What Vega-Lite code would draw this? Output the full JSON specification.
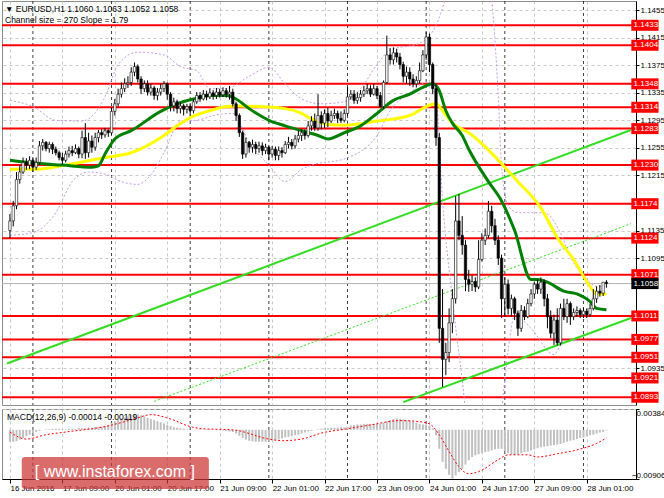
{
"$schema": "https://vega.github.io/schema/vega-lite/v6.json",
"padding": 0,
"background": "white",
"spacing": 2,
"resolve": {"scale": {"x": "independent", "y": "independent"}, "axis": {"x": "independent", "y": "independent"}},
"config": {
 "font": "Liberation Sans",
 "view": {"stroke": "#8c8c8c"},
 "axis": {"labelFont": "Liberation Sans", "labelFontSize": 8, "labelColor": "#000", "domainColor": "#000", "tickColor": "#000", "gridColor": "#c8c8c8", "gridDash": [3, 3]}
},
"datasets": {
 "bars": [
{"i":0,"o":1.1135,"h":1.1159,"l":1.1124,"c":1.1149,"m":-0.0022},
{"i":1,"o":1.1149,"h":1.1178,"l":1.1141,"c":1.1171,"m":-0.0022},
{"i":2,"o":1.1171,"h":1.1220,"l":1.1166,"c":1.1209,"m":-0.0021},
{"i":3,"o":1.1209,"h":1.1230,"l":1.1203,"c":1.1220,"m":-0.0018},
{"i":4,"o":1.1220,"h":1.1241,"l":1.1217,"c":1.1234,"m":-0.0015},
{"i":5,"o":1.1234,"h":1.1240,"l":1.1223,"c":1.1230,"m":-0.0012},
{"i":6,"o":1.1230,"h":1.1243,"l":1.1224,"c":1.1237,"m":-0.0009},
{"i":7,"o":1.1237,"h":1.1240,"l":1.1220,"c":1.1227,"m":-0.0006},
{"i":8,"o":1.1227,"h":1.1241,"l":1.1223,"c":1.1234,"m":-0.0004},
{"i":9,"o":1.1234,"h":1.1265,"l":1.1231,"c":1.1258,"m":-0.0002},
{"i":10,"o":1.1258,"h":1.1268,"l":1.1251,"c":1.1263,"m":0},
{"i":11,"o":1.1263,"h":1.1265,"l":1.1250,"c":1.1254,"m":0.0001},
{"i":12,"o":1.1254,"h":1.1264,"l":1.1248,"c":1.1260,"m":0.0001},
{"i":13,"o":1.1260,"h":1.1263,"l":1.1246,"c":1.1253,"m":0.0002},
{"i":14,"o":1.1253,"h":1.1257,"l":1.1244,"c":1.1248,"m":0.0002},
{"i":15,"o":1.1248,"h":1.1251,"l":1.1237,"c":1.1241,"m":0.0002},
{"i":16,"o":1.1241,"h":1.1248,"l":1.1231,"c":1.1237,"m":0.0001},
{"i":17,"o":1.1237,"h":1.1251,"l":1.1234,"c":1.1246,"m":0.0001},
{"i":18,"o":1.1246,"h":1.1257,"l":1.1241,"c":1.1251,"m":0.0002},
{"i":19,"o":1.1251,"h":1.1258,"l":1.1243,"c":1.1248,"m":0.0002},
{"i":20,"o":1.1248,"h":1.1260,"l":1.1246,"c":1.1254,"m":0.0002},
{"i":21,"o":1.1254,"h":1.1257,"l":1.1240,"c":1.1246,"m":0.0003},
{"i":22,"o":1.1246,"h":1.1280,"l":1.1240,"c":1.1270,"m":0.0003},
{"i":23,"o":1.1270,"h":1.1291,"l":1.1239,"c":1.1248,"m":0.0003},
{"i":24,"o":1.1248,"h":1.1277,"l":1.1241,"c":1.1265,"m":0.0004},
{"i":25,"o":1.1265,"h":1.1273,"l":1.1248,"c":1.1256,"m":0.0004},
{"i":26,"o":1.1256,"h":1.1277,"l":1.1251,"c":1.1270,"m":0.0005},
{"i":27,"o":1.1270,"h":1.1281,"l":1.1263,"c":1.1277,"m":0.0005},
{"i":28,"o":1.1277,"h":1.1282,"l":1.1268,"c":1.1274,"m":0.0006},
{"i":29,"o":1.1274,"h":1.1284,"l":1.1270,"c":1.1280,"m":0.0007},
{"i":30,"o":1.1280,"h":1.1282,"l":1.1271,"c":1.1277,"m":0.0009},
{"i":31,"o":1.1277,"h":1.1314,"l":1.1274,"c":1.1308,"m":0.0013},
{"i":32,"o":1.1308,"h":1.1326,"l":1.1302,"c":1.1319,"m":0.0016},
{"i":33,"o":1.1319,"h":1.1341,"l":1.1315,"c":1.1333,"m":0.0019},
{"i":34,"o":1.1333,"h":1.1350,"l":1.1328,"c":1.1341,"m":0.0021},
{"i":35,"o":1.1341,"h":1.1356,"l":1.1336,"c":1.1348,"m":0.0023},
{"i":36,"o":1.1348,"h":1.1359,"l":1.1342,"c":1.1350,"m":0.0025},
{"i":37,"o":1.1350,"h":1.1372,"l":1.1345,"c":1.1365,"m":0.0027},
{"i":38,"o":1.1365,"h":1.1379,"l":1.1359,"c":1.1373,"m":0.0029},
{"i":39,"o":1.1373,"h":1.1376,"l":1.1350,"c":1.1355,"m":0.0029},
{"i":40,"o":1.1355,"h":1.1359,"l":1.1333,"c":1.1341,"m":0.0027},
{"i":41,"o":1.1341,"h":1.1353,"l":1.1336,"c":1.1348,"m":0.0025},
{"i":42,"o":1.1348,"h":1.1353,"l":1.1331,"c":1.1336,"m":0.0022},
{"i":43,"o":1.1336,"h":1.1348,"l":1.1331,"c":1.1342,"m":0.0020},
{"i":44,"o":1.1342,"h":1.1345,"l":1.1325,"c":1.1331,"m":0.0018},
{"i":45,"o":1.1331,"h":1.1342,"l":1.1324,"c":1.1336,"m":0.0016},
{"i":46,"o":1.1336,"h":1.1348,"l":1.1331,"c":1.1341,"m":0.0014},
{"i":47,"o":1.1341,"h":1.1352,"l":1.1336,"c":1.1348,"m":0.0012},
{"i":48,"o":1.1348,"h":1.1350,"l":1.1325,"c":1.1333,"m":0.0009},
{"i":49,"o":1.1333,"h":1.1336,"l":1.1308,"c":1.1316,"m":0.0007},
{"i":50,"o":1.1316,"h":1.1328,"l":1.1308,"c":1.1322,"m":0.0005},
{"i":51,"o":1.1322,"h":1.1325,"l":1.1305,"c":1.1312,"m":0.0004},
{"i":52,"o":1.1312,"h":1.1321,"l":1.1305,"c":1.1316,"m":0.0003},
{"i":53,"o":1.1316,"h":1.1319,"l":1.1302,"c":1.1311,"m":0.0002},
{"i":54,"o":1.1311,"h":1.1319,"l":1.1305,"c":1.1315,"m":0.0001},
{"i":55,"o":1.1315,"h":1.1318,"l":1.1302,"c":1.1309,"m":0},
{"i":56,"o":1.1309,"h":1.1326,"l":1.1305,"c":1.1322,"m":0},
{"i":57,"o":1.1322,"h":1.1336,"l":1.1319,"c":1.1331,"m":0.0001},
{"i":58,"o":1.1331,"h":1.1336,"l":1.1322,"c":1.1326,"m":0.0001},
{"i":59,"o":1.1326,"h":1.1339,"l":1.1324,"c":1.1333,"m":0.0001},
{"i":60,"o":1.1333,"h":1.1338,"l":1.1324,"c":1.1329,"m":0.0001},
{"i":61,"o":1.1329,"h":1.1341,"l":1.1326,"c":1.1335,"m":0.0001},
{"i":62,"o":1.1335,"h":1.1339,"l":1.1325,"c":1.1331,"m":0},
{"i":63,"o":1.1331,"h":1.1342,"l":1.1326,"c":1.1336,"m":0},
{"i":64,"o":1.1336,"h":1.1341,"l":1.1328,"c":1.1332,"m":-0.0001},
{"i":65,"o":1.1332,"h":1.1343,"l":1.1329,"c":1.1338,"m":-0.0001},
{"i":66,"o":1.1338,"h":1.1342,"l":1.1328,"c":1.1333,"m":-0.0002},
{"i":67,"o":1.1333,"h":1.1345,"l":1.1325,"c":1.1336,"m":-0.0003},
{"i":68,"o":1.1336,"h":1.1341,"l":1.1315,"c":1.1319,"m":-0.0004},
{"i":69,"o":1.1319,"h":1.1322,"l":1.1294,"c":1.1302,"m":-0.0007},
{"i":70,"o":1.1302,"h":1.1305,"l":1.1271,"c":1.1277,"m":-0.0011},
{"i":71,"o":1.1277,"h":1.1280,"l":1.1239,"c":1.1246,"m":-0.0015},
{"i":72,"o":1.1246,"h":1.1270,"l":1.1241,"c":1.1263,"m":-0.0018},
{"i":73,"o":1.1263,"h":1.1265,"l":1.1248,"c":1.1256,"m":-0.0020},
{"i":74,"o":1.1256,"h":1.1267,"l":1.1248,"c":1.1260,"m":-0.0021},
{"i":75,"o":1.1260,"h":1.1264,"l":1.1246,"c":1.1254,"m":-0.0022},
{"i":76,"o":1.1254,"h":1.1264,"l":1.1248,"c":1.1258,"m":-0.0022},
{"i":77,"o":1.1258,"h":1.1263,"l":1.1244,"c":1.1251,"m":-0.0022},
{"i":78,"o":1.1251,"h":1.1261,"l":1.1246,"c":1.1256,"m":-0.0022},
{"i":79,"o":1.1256,"h":1.1258,"l":1.1237,"c":1.1246,"m":-0.0021},
{"i":80,"o":1.1246,"h":1.1258,"l":1.1241,"c":1.1253,"m":-0.0020},
{"i":81,"o":1.1253,"h":1.1257,"l":1.1237,"c":1.1244,"m":-0.0019},
{"i":82,"o":1.1244,"h":1.1257,"l":1.1237,"c":1.1251,"m":-0.0018},
{"i":83,"o":1.1251,"h":1.1256,"l":1.1241,"c":1.1248,"m":-0.0016},
{"i":84,"o":1.1248,"h":1.1265,"l":1.1246,"c":1.1260,"m":-0.0014},
{"i":85,"o":1.1260,"h":1.1271,"l":1.1254,"c":1.1263,"m":-0.0013},
{"i":86,"o":1.1263,"h":1.1268,"l":1.1253,"c":1.1258,"m":-0.0012},
{"i":87,"o":1.1258,"h":1.1274,"l":1.1254,"c":1.1268,"m":-0.0010},
{"i":88,"o":1.1268,"h":1.1280,"l":1.1263,"c":1.1273,"m":-0.0009},
{"i":89,"o":1.1273,"h":1.1282,"l":1.1265,"c":1.1277,"m":-0.0007},
{"i":90,"o":1.1277,"h":1.1282,"l":1.1267,"c":1.1273,"m":-0.0005},
{"i":91,"o":1.1273,"h":1.1294,"l":1.1270,"c":1.1287,"m":-0.0003},
{"i":92,"o":1.1287,"h":1.1301,"l":1.1280,"c":1.1294,"m":-0.0002},
{"i":93,"o":1.1294,"h":1.1305,"l":1.1280,"c":1.1284,"m":0},
{"i":94,"o":1.1284,"h":1.1333,"l":1.1280,"c":1.1302,"m":0.0001},
{"i":95,"o":1.1302,"h":1.1308,"l":1.1282,"c":1.1291,"m":0.0002},
{"i":96,"o":1.1291,"h":1.1311,"l":1.1284,"c":1.1305,"m":0.0003},
{"i":97,"o":1.1305,"h":1.1314,"l":1.1285,"c":1.1294,"m":0.0003},
{"i":98,"o":1.1294,"h":1.1309,"l":1.1291,"c":1.1302,"m":0.0004},
{"i":99,"o":1.1302,"h":1.1312,"l":1.1297,"c":1.1305,"m":0.0004},
{"i":100,"o":1.1305,"h":1.1309,"l":1.1291,"c":1.1298,"m":0.0004},
{"i":101,"o":1.1298,"h":1.1308,"l":1.1291,"c":1.1295,"m":0.0005},
{"i":102,"o":1.1295,"h":1.1311,"l":1.1292,"c":1.1305,"m":0.0005},
{"i":103,"o":1.1305,"h":1.1343,"l":1.1302,"c":1.1329,"m":0.0006},
{"i":104,"o":1.1329,"h":1.1339,"l":1.1325,"c":1.1333,"m":0.0008},
{"i":105,"o":1.1333,"h":1.1339,"l":1.1319,"c":1.1324,"m":0.0009},
{"i":106,"o":1.1324,"h":1.1336,"l":1.1319,"c":1.1328,"m":0.0010},
{"i":107,"o":1.1328,"h":1.1339,"l":1.1322,"c":1.1333,"m":0.0010},
{"i":108,"o":1.1333,"h":1.1345,"l":1.1329,"c":1.1338,"m":0.0011},
{"i":109,"o":1.1338,"h":1.1348,"l":1.1333,"c":1.1341,"m":0.0011},
{"i":110,"o":1.1341,"h":1.1346,"l":1.1329,"c":1.1333,"m":0.0011},
{"i":111,"o":1.1333,"h":1.1348,"l":1.1331,"c":1.1341,"m":0.0011},
{"i":112,"o":1.1341,"h":1.1345,"l":1.1326,"c":1.1331,"m":0.0011},
{"i":113,"o":1.1331,"h":1.1336,"l":1.1314,"c":1.1315,"m":0.0011},
{"i":114,"o":1.1315,"h":1.1353,"l":1.1312,"c":1.1350,"m":0.0013},
{"i":115,"o":1.1350,"h":1.1418,"l":1.1348,"c":1.1390,"m":0.0016},
{"i":116,"o":1.1390,"h":1.1400,"l":1.1376,"c":1.1383,"m":0.0018},
{"i":117,"o":1.1383,"h":1.1401,"l":1.1376,"c":1.1393,"m":0.0020},
{"i":118,"o":1.1393,"h":1.1399,"l":1.1379,"c":1.1387,"m":0.0021},
{"i":119,"o":1.1387,"h":1.1393,"l":1.1369,"c":1.1376,"m":0.0020},
{"i":120,"o":1.1376,"h":1.1380,"l":1.1350,"c":1.1359,"m":0.0019},
{"i":121,"o":1.1359,"h":1.1373,"l":1.1348,"c":1.1365,"m":0.0018},
{"i":122,"o":1.1365,"h":1.1372,"l":1.1345,"c":1.1355,"m":0.0017},
{"i":123,"o":1.1355,"h":1.1362,"l":1.1343,"c":1.1348,"m":0.0015},
{"i":124,"o":1.1348,"h":1.1359,"l":1.1343,"c":1.1353,"m":0.0013},
{"i":125,"o":1.1353,"h":1.1379,"l":1.1348,"c":1.1367,"m":0.0011},
{"i":126,"o":1.1367,"h":1.1397,"l":1.1365,"c":1.1390,"m":0.0010},
{"i":127,"o":1.1390,"h":1.1423,"l":1.1383,"c":1.1416,"m":0.0010},
{"i":128,"o":1.1416,"h":1.1421,"l":1.1365,"c":1.1376,"m":0.0008},
{"i":129,"o":1.1376,"h":1.1379,"l":1.1333,"c":1.1341,"m":0.0003},
{"i":130,"o":1.1341,"h":1.1348,"l":1.1258,"c":1.1270,"m":-0.0010},
{"i":131,"o":1.1270,"h":1.1277,"l":1.0972,"c":1.0993,"m":-0.0035},
{"i":132,"o":1.0993,"h":1.1050,"l":1.0908,"c":1.0948,"m":-0.0059},
{"i":133,"o":1.0948,"h":1.0972,"l":1.0925,"c":1.0958,"m":-0.0072},
{"i":134,"o":1.0958,"h":1.1022,"l":1.0944,"c":1.1001,"m":-0.0083},
{"i":135,"o":1.1001,"h":1.1050,"l":1.0986,"c":1.1036,"m":-0.0090},
{"i":136,"o":1.1036,"h":1.1185,"l":1.1029,"c":1.1149,"m":-0.0084},
{"i":137,"o":1.1149,"h":1.1188,"l":1.1121,"c":1.1128,"m":-0.0078},
{"i":138,"o":1.1128,"h":1.1156,"l":1.1100,"c":1.1114,"m":-0.0072},
{"i":139,"o":1.1114,"h":1.1121,"l":1.1047,"c":1.1064,"m":-0.0064},
{"i":140,"o":1.1064,"h":1.1078,"l":1.1046,"c":1.1057,"m":-0.0056},
{"i":141,"o":1.1057,"h":1.1070,"l":1.1047,"c":1.1061,"m":-0.0050},
{"i":142,"o":1.1061,"h":1.1067,"l":1.1046,"c":1.1053,"m":-0.0047},
{"i":143,"o":1.1053,"h":1.1121,"l":1.1050,"c":1.1093,"m":-0.0045},
{"i":144,"o":1.1093,"h":1.1131,"l":1.1090,"c":1.1121,"m":-0.0043},
{"i":145,"o":1.1121,"h":1.1138,"l":1.1114,"c":1.1128,"m":-0.0041},
{"i":146,"o":1.1128,"h":1.1178,"l":1.1124,"c":1.1163,"m":-0.0040},
{"i":147,"o":1.1163,"h":1.1171,"l":1.1132,"c":1.1142,"m":-0.0038},
{"i":148,"o":1.1142,"h":1.1152,"l":1.1114,"c":1.1121,"m":-0.0036},
{"i":149,"o":1.1121,"h":1.1128,"l":1.1085,"c":1.1095,"m":-0.0035},
{"i":150,"o":1.1095,"h":1.1100,"l":1.1008,"c":1.1036,"m":-0.0035},
{"i":151,"o":1.1036,"h":1.1067,"l":1.1010,"c":1.1057,"m":-0.0039},
{"i":152,"o":1.1057,"h":1.1064,"l":1.1013,"c":1.1022,"m":-0.0043},
{"i":153,"o":1.1022,"h":1.1042,"l":1.1010,"c":1.1036,"m":-0.0045},
{"i":154,"o":1.1036,"h":1.1039,"l":1.1005,"c":1.1015,"m":-0.0046},
{"i":155,"o":1.1015,"h":1.1019,"l":1.0982,"c":1.0993,"m":-0.0045},
{"i":156,"o":1.0993,"h":1.1027,"l":1.0988,"c":1.1019,"m":-0.0043},
{"i":157,"o":1.1019,"h":1.1025,"l":1.1005,"c":1.1010,"m":-0.0041},
{"i":158,"o":1.1010,"h":1.1036,"l":1.1008,"c":1.1029,"m":-0.0040},
{"i":159,"o":1.1029,"h":1.1050,"l":1.1025,"c":1.1043,"m":-0.0038},
{"i":160,"o":1.1043,"h":1.1061,"l":1.1036,"c":1.1057,"m":-0.0036},
{"i":161,"o":1.1057,"h":1.1064,"l":1.1043,"c":1.1050,"m":-0.0034},
{"i":162,"o":1.1050,"h":1.1067,"l":1.1043,"c":1.1060,"m":-0.0032},
{"i":163,"o":1.1060,"h":1.1064,"l":1.1025,"c":1.1036,"m":-0.0031},
{"i":164,"o":1.1036,"h":1.1043,"l":1.0993,"c":1.1010,"m":-0.0030},
{"i":165,"o":1.1010,"h":1.1019,"l":1.0979,"c":1.0986,"m":-0.0029},
{"i":166,"o":1.0986,"h":1.1013,"l":1.0969,"c":1.1005,"m":-0.0028},
{"i":167,"o":1.1005,"h":1.1022,"l":1.0968,"c":1.0972,"m":-0.0027},
{"i":168,"o":1.0972,"h":1.1029,"l":1.0968,"c":1.1022,"m":-0.0026},
{"i":169,"o":1.1022,"h":1.1036,"l":1.1005,"c":1.1010,"m":-0.0024},
{"i":170,"o":1.1010,"h":1.1036,"l":1.1001,"c":1.1029,"m":-0.0022},
{"i":171,"o":1.1029,"h":1.1032,"l":1.0998,"c":1.1010,"m":-0.0020},
{"i":172,"o":1.1010,"h":1.1022,"l":1.1005,"c":1.1016,"m":-0.0019},
{"i":173,"o":1.1016,"h":1.1025,"l":1.1010,"c":1.1019,"m":-0.0017},
{"i":174,"o":1.1019,"h":1.1022,"l":1.1008,"c":1.1013,"m":-0.0015},
{"i":175,"o":1.1013,"h":1.1023,"l":1.1008,"c":1.1018,"m":-0.0014},
{"i":176,"o":1.1018,"h":1.1022,"l":1.1008,"c":1.1013,"m":-0.0012},
{"i":177,"o":1.1013,"h":1.1029,"l":1.1010,"c":1.1022,"m":-0.0010},
{"i":178,"o":1.1022,"h":1.1050,"l":1.1019,"c":1.1036,"m":-0.0009},
{"i":179,"o":1.1036,"h":1.1054,"l":1.1030,"c":1.1047,"m":-0.0007},
{"i":180,"o":1.1047,"h":1.1056,"l":1.1039,"c":1.1044,"m":-0.0005},
{"i":181,"o":1.1044,"h":1.1060,"l":1.1040,"c":1.1060,"m":-0.0004},
{"i":182,"o":1.1060,"h":1.1063,"l":1.1052,"c":1.1058,"m":-0.00014}
 ],
 "levels": [{"p":1.1433},{"p":1.1404},{"p":1.1348},{"p":1.1314},{"p":1.1283},{"p":1.1230},{"p":1.1174},{"p":1.1124},{"p":1.1071},{"p":1.1011},{"p":1.0977},{"p":1.0951},{"p":1.0921},{"p":1.0893}],
 "seps": [{"i":7},{"i":31},{"i":55},{"i":79},{"i":103},{"i":127},{"i":151},{"i":175}],
 "chan": [{"k":"up","i":-0.9,"p":1.0942},{"k":"up","i":189.5,"p":1.1281},{"k":"lo","i":120,"p":1.0886},{"k":"lo","i":189.5,"p":1.1008},{"k":"mid","i":44,"p":1.0887},{"k":"mid","i":189.5,"p":1.1145}],
 "mag": [{"i":0,"p":1.1237},{"i":5,"p":1.1234},{"i":16,"p":1.1230},{"i":25,"p":1.1227},{"i":27,"p":1.1229},{"i":29,"p":1.1246},{"i":32,"p":1.1268},{"i":37,"p":1.1280},{"i":46,"p":1.1308},{"i":51,"p":1.1319},{"i":56,"p":1.1326},{"i":61,"p":1.1331},{"i":66,"p":1.1331},{"i":69,"p":1.1326},{"i":73,"p":1.1312},{"i":79,"p":1.1295},{"i":84,"p":1.1287},{"i":89,"p":1.1280},{"i":94,"p":1.1273},{"i":97,"p":1.1268},{"i":102,"p":1.1277},{"i":107,"p":1.1287},{"i":112,"p":1.1305},{"i":117,"p":1.1324},{"i":122,"p":1.1333},{"i":126,"p":1.1343},{"i":129,"p":1.1348},{"i":131,"p":1.1338},{"i":133,"p":1.1309},{"i":135,"p":1.1291},{"i":138,"p":1.1273},{"i":140,"p":1.1253},{"i":146,"p":1.1206},{"i":150,"p":1.1178},{"i":154,"p":1.1135},{"i":159,"p":1.1064},{"i":161,"p":1.1064},{"i":164,"p":1.1060},{"i":169,"p":1.1047},{"i":173,"p":1.1043},{"i":177,"p":1.1032},{"i":179,"p":1.1022},{"i":182,"p":1.1020}],
 "may": [{"i":0,"p":1.1224},{"i":8,"p":1.1224},{"i":17,"p":1.1230},{"i":29,"p":1.1241},{"i":37,"p":1.1248},{"i":47,"p":1.1273},{"i":51,"p":1.1287},{"i":56,"p":1.1301},{"i":61,"p":1.1309},{"i":66,"p":1.1315},{"i":70,"p":1.1316},{"i":76,"p":1.1315},{"i":84,"p":1.1312},{"i":89,"p":1.1305},{"i":92,"p":1.1297},{"i":97,"p":1.1289},{"i":102,"p":1.1288},{"i":112,"p":1.1294},{"i":122,"p":1.1302},{"i":127,"p":1.1315},{"i":130,"p":1.1319},{"i":132,"p":1.1309},{"i":135,"p":1.1291},{"i":140,"p":1.1277},{"i":155,"p":1.1206},{"i":162,"p":1.1168},{"i":167,"p":1.1125},{"i":172,"p":1.1093},{"i":177,"p":1.1054},{"i":179,"p":1.1043},{"i":182,"p":1.1043}],
 "bb": [
{"b":"up","i":0,"p":1.1324},{"b":"up","i":7,"p":1.1315},{"b":"up","i":14,"p":1.1295},{"b":"up","i":22,"p":1.1294},{"b":"up","i":29,"p":1.1329},{"b":"up","i":33,"p":1.1376},{"b":"up","i":39,"p":1.1394},{"b":"up","i":47,"p":1.1390},{"b":"up","i":52,"p":1.1373},{"b":"up","i":57,"p":1.1367},{"b":"up","i":61,"p":1.1341},{"b":"up","i":66,"p":1.1341},{"b":"up","i":73,"p":1.1359},{"b":"up","i":79,"p":1.1372},{"b":"up","i":84,"p":1.1348},{"b":"up","i":89,"p":1.1326},{"b":"up","i":95,"p":1.1319},{"b":"up","i":102,"p":1.1322},{"b":"up","i":107,"p":1.1341},{"b":"up","i":112,"p":1.1376},{"b":"up","i":116,"p":1.1397},{"b":"up","i":125,"p":1.1407},{"b":"up","i":130,"p":1.1433},{"b":"up","i":133,"p":1.1475},{"b":"up","i":136,"p":1.1546},{"b":"up","i":140,"p":1.1574},{"b":"up","i":143,"p":1.1560},{"b":"up","i":147,"p":1.1470},{"b":"up","i":149,"p":1.1330},{"b":"up","i":150,"p":1.1230},{"b":"up","i":152,"p":1.1171},{"b":"up","i":155,"p":1.1161},{"b":"up","i":163,"p":1.1161},{"b":"up","i":168,"p":1.1131},{"b":"up","i":171,"p":1.1097},{"b":"up","i":176,"p":1.1064},{"b":"up","i":179,"p":1.1054},{"b":"up","i":182,"p":1.1054},
{"b":"lo","i":0,"p":1.1128},{"b":"lo","i":7,"p":1.1132},{"b":"lo","i":14,"p":1.1161},{"b":"lo","i":19,"p":1.1206},{"b":"lo","i":24,"p":1.1220},{"b":"lo","i":29,"p":1.1217},{"b":"lo","i":34,"p":1.1206},{"b":"lo","i":39,"p":1.1202},{"b":"lo","i":43,"p":1.1216},{"b":"lo","i":47,"p":1.1248},{"b":"lo","i":52,"p":1.1294},{"b":"lo","i":57,"p":1.1295},{"b":"lo","i":62,"p":1.1302},{"b":"lo","i":68,"p":1.1305},{"b":"lo","i":73,"p":1.1263},{"b":"lo","i":79,"p":1.1230},{"b":"lo","i":84,"p":1.1206},{"b":"lo","i":89,"p":1.1224},{"b":"lo","i":92,"p":1.1230},{"b":"lo","i":102,"p":1.1239},{"b":"lo","i":112,"p":1.1273},{"b":"lo","i":116,"p":1.1309},{"b":"lo","i":122,"p":1.1335},{"b":"lo","i":127,"p":1.1350},{"b":"lo","i":130,"p":1.1329},{"b":"lo","i":132,"p":1.1178},{"b":"lo","i":135,"p":1.1036},{"b":"lo","i":138,"p":1.0918},{"b":"lo","i":140,"p":1.0838},{"b":"lo","i":145,"p":1.0795},{"b":"lo","i":149,"p":1.0830},{"b":"lo","i":151,"p":1.0920},{"b":"lo","i":152,"p":1.0960},{"b":"lo","i":154,"p":1.1012},{"b":"lo","i":159,"p":1.0993},{"b":"lo","i":166,"p":1.0955},{"b":"lo","i":169,"p":1.0975},{"b":"lo","i":182,"p":1.0975}
 ],
 "sig": [{"i":0,"v":-0.0004},{"i":5,"v":-0.0017},{"i":11,"v":-0.0009},{"i":17,"v":-0.0004},{"i":29,"v":0.0006},{"i":38,"v":0.0020},{"i":43,"v":0.0028},{"i":49,"v":0.0020},{"i":55,"v":0.0006},{"i":59,"v":0.0002},{"i":68,"v":0.0},{"i":79,"v":-0.0017},{"i":83,"v":-0.0020},{"i":89,"v":-0.0017},{"i":95,"v":-0.0006},{"i":103,"v":0.0002},{"i":110,"v":0.0009},{"i":119,"v":0.0017},{"i":125,"v":0.0015},{"i":128,"v":0.0011},{"i":131,"v":-0.0009},{"i":134,"v":-0.0040},{"i":137,"v":-0.0068},{"i":140,"v":-0.0081},{"i":143,"v":-0.0077},{"i":149,"v":-0.0055},{"i":152,"v":-0.0046},{"i":158,"v":-0.0046},{"i":161,"v":-0.0050},{"i":167,"v":-0.0044},{"i":173,"v":-0.0037},{"i":179,"v":-0.0025},{"i":182,"v":-0.0015}]
},
"vconcat": [
 {
  "width": 634, "height": 404,
  "title": {"text": "▼ EURUSD,H1  1.1060 1.1063 1.1052 1.1058", "subtitle": "Channel size = 270 Slope = 1.79", "anchor": "start", "frame": "group", "orient": "top", "offset": -24, "dx": 3, "font": "Liberation Sans", "fontSize": 8.5, "fontWeight": "normal", "color": "#000", "subtitleFont": "Liberation Sans", "subtitleFontSize": 8.5, "subtitleColor": "#000", "subtitlePadding": 3},
  "layer": [
   {"data": {"name": "seps"}, "mark": {"type": "rule", "color": "#000", "strokeDash": [3, 3], "strokeWidth": 1, "opacity": 0.75},
    "encoding": {"x": {"field": "i", "type": "quantitative", "scale": {"domain": [-0.9, 189.5], "nice": false, "zero": false},
      "axis": {"values": [0,8,16,24,32,40,48,56,64,72,80,88,96,104,112,120,128,136,144,152,160,168,176,184], "labels": false, "ticks": false, "domain": false, "grid": true, "title": null}}}},
   {"data": {"name": "levels"}, "mark": {"type": "rule", "color": "#ff0000", "strokeWidth": 2},
    "encoding": {"y": {"field": "p", "type": "quantitative", "scale": {"domain": [1.0889, 1.1461], "nice": false, "zero": false},
      "axis": {"orient": "right", "values": [1.1455, 1.1415, 1.1375, 1.1335, 1.1295, 1.1255, 1.1215, 1.1135, 1.1095, 1.0935], "format": ".4f", "grid": true, "tickSize": 3, "labelPadding": 1, "title": null}}}},
   {"data": {"values": [{"p": 1.1058}]}, "mark": {"type": "rule", "color": "#b4b4b4", "strokeWidth": 1},
    "encoding": {"y": {"field": "p", "type": "quantitative"}}},
   {"data": {"name": "bb"}, "mark": {"type": "line", "color": "#c79be0", "strokeWidth": 1, "strokeDash": [2, 2], "clip": true, "interpolate": "monotone"},
    "encoding": {"x": {"field": "i", "type": "quantitative"}, "y": {"field": "p", "type": "quantitative"}, "detail": {"field": "b"}}},
   {"data": {"name": "chan"}, "transform": [{"filter": "datum.k != 'mid'"}], "mark": {"type": "line", "color": "#33dd22", "strokeWidth": 2, "clip": true},
    "encoding": {"x": {"field": "i", "type": "quantitative"}, "y": {"field": "p", "type": "quantitative"}, "detail": {"field": "k"}}},
   {"data": {"name": "chan"}, "transform": [{"filter": "datum.k == 'mid'"}], "mark": {"type": "line", "color": "#33dd22", "strokeWidth": 1, "strokeDash": [2, 2], "clip": true},
    "encoding": {"x": {"field": "i", "type": "quantitative"}, "y": {"field": "p", "type": "quantitative"}}},
   {"data": {"name": "may"}, "mark": {"type": "line", "color": "#ffff00", "strokeWidth": 3, "interpolate": "monotone"},
    "encoding": {"x": {"field": "i", "type": "quantitative"}, "y": {"field": "p", "type": "quantitative"}}},
   {"data": {"name": "mag"}, "mark": {"type": "line", "color": "#008000", "strokeWidth": 3, "interpolate": "monotone"},
    "encoding": {"x": {"field": "i", "type": "quantitative"}, "y": {"field": "p", "type": "quantitative"}}},
   {"data": {"name": "bars"}, "mark": {"type": "rule", "color": "#000", "strokeWidth": 1},
    "encoding": {"x": {"field": "i", "type": "quantitative"}, "y": {"field": "l", "type": "quantitative"}, "y2": {"field": "h"}}},
   {"data": {"name": "bars"}, "mark": {"type": "bar", "width": 2.4, "stroke": "#000", "strokeWidth": 0.6},
    "encoding": {"x": {"field": "i", "type": "quantitative"}, "y": {"field": "o", "type": "quantitative"}, "y2": {"field": "c"},
     "color": {"condition": {"test": "datum.c >= datum.o", "value": "#ffffff"}, "value": "#000000"}}},
   {"data": {"name": "levels"}, "mark": {"type": "bar", "color": "#ff0000", "height": 11},
    "encoding": {"x": {"datum": 189.6}, "x2": {"datum": 197.9}, "y": {"field": "p", "type": "quantitative"}}},
   {"data": {"name": "levels"}, "mark": {"type": "text", "color": "#ffffff", "align": "left", "baseline": "middle", "fontSize": 8, "font": "Liberation Sans"},
    "encoding": {"x": {"datum": 190.3}, "y": {"field": "p", "type": "quantitative"}, "text": {"field": "p", "type": "quantitative", "format": ".4f"}}},
   {"data": {"values": [{"p": 1.1058}]}, "mark": {"type": "bar", "color": "#000000", "height": 11},
    "encoding": {"x": {"datum": 189.6}, "x2": {"datum": 197.9}, "y": {"field": "p", "type": "quantitative"}}},
   {"data": {"values": [{"p": 1.1058}]}, "mark": {"type": "text", "color": "#ffffff", "align": "left", "baseline": "middle", "fontSize": 8, "font": "Liberation Sans"},
    "encoding": {"x": {"datum": 190.3}, "y": {"field": "p", "type": "quantitative"}, "text": {"field": "p", "type": "quantitative", "format": ".4f"}}}
  ]
 },
 {
  "width": 634, "height": 70,
  "title": {"text": "MACD(12,26,9) -0.00014 -0.00119", "anchor": "start", "frame": "group", "orient": "top", "offset": -13, "dx": 5, "font": "Liberation Sans", "fontSize": 8.5, "fontWeight": "normal", "color": "#000"},
  "layer": [
   {"data": {"name": "seps"}, "mark": {"type": "rule", "color": "#000", "strokeDash": [3, 3], "strokeWidth": 1, "opacity": 0.75},
    "encoding": {"x": {"field": "i", "type": "quantitative", "scale": {"domain": [-0.9, 189.5], "nice": false, "zero": false},
      "axis": {"values": [0,8,16,24,32,40,48,56,64,72,80,88,96,104,112,120,128,136,144,152,160,168,176,184],
       "labelExpr": "datum.value % 16 == 0 ? ['16 Jun 2016','17 Jun 09:00','20 Jun 01:00','20 Jun 17:00','21 Jun 09:00','22 Jun 01:00','22 Jun 17:00','23 Jun 09:00','24 Jun 01:00','24 Jun 17:00','27 Jun 09:00','28 Jun 01:00'][datum.value / 16] : ''",
       "labelAlign": "left", "labelFlush": false, "labelOverlap": false, "labelPadding": 1, "tickSize": 4,
       "tickColor": {"condition": {"test": "datum.value % 16 == 0", "value": "#000000"}, "value": "transparent"},
       "grid": true, "title": null}}}},
   {"data": {"name": "bars"}, "mark": {"type": "bar", "width": 2, "color": "#c0c0c0"},
    "encoding": {"x": {"field": "i", "type": "quantitative"},
     "y": {"field": "m", "type": "quantitative", "scale": {"domain": [-0.00906, 0.00384], "nice": false, "zero": false},
      "axis": {"orient": "right", "values": [0.00384, 0, -0.00906], "labelExpr": "datum.value == 0 ? '0.00' : format(datum.value, '.5f')", "labelFlush": true, "grid": true, "tickSize": 3, "title": null,
       "labelAlign": {"condition": {"test": "datum.value != 0", "value": "right"}, "value": "left"},
       "labelPadding": {"condition": {"test": "datum.value != 0", "value": 26}, "value": 1}}},
     "y2": {"datum": 0}}},
   {"data": {"name": "sig"}, "mark": {"type": "line", "color": "#ff0000", "strokeWidth": 1, "strokeDash": [2, 2], "interpolate": "monotone"},
    "encoding": {"x": {"field": "i", "type": "quantitative"}, "y": {"field": "v", "type": "quantitative"}}},
   {"data": {"values": [{}]}, "mark": {"type": "rect", "color": "#cc3333", "opacity": 0.72, "cornerRadius": 3},
    "encoding": {"x": {"datum": 3.6}, "x2": {"datum": 60.7}, "y": {"datum": -0.0050}, "y2": {"datum": -0.0109}}},
   {"data": {"values": [{}]}, "mark": {"type": "text", "color": "#ffffff", "fontSize": 16, "font": "Liberation Sans", "align": "center", "baseline": "middle", "text": "[  www.instaforex.com  ]"},
    "encoding": {"x": {"datum": 32}, "y": {"datum": -0.0078}}}
  ]
 }
]
}
